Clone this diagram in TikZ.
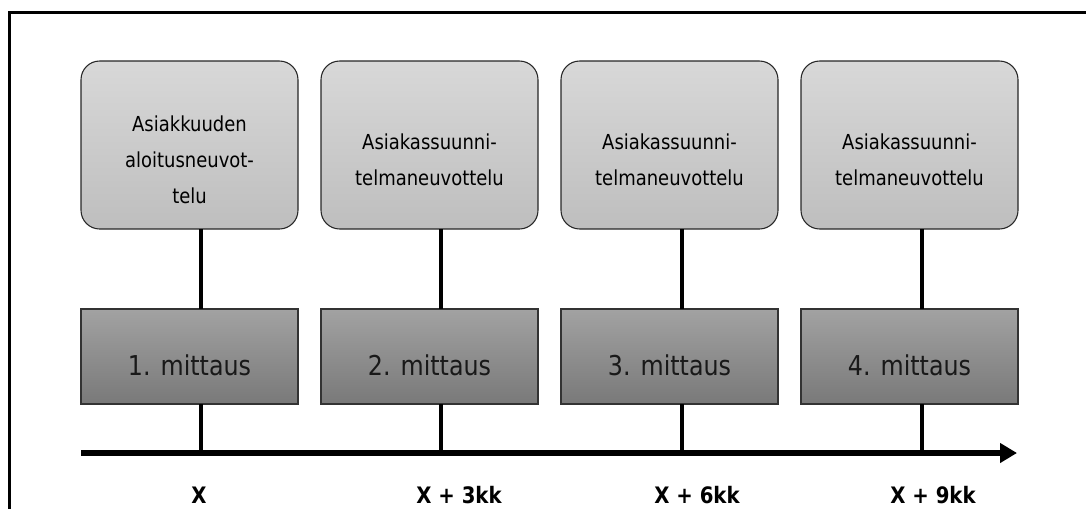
\documentclass[tikz,border=0pt]{standalone}
\usepackage{fontspec}
\setmainfont{DejaVu Sans}[FakeStretch=0.87]
\usepackage{tikz}
\usetikzlibrary{positioning,arrows.meta}
\definecolor{MeetTop}{RGB}{216,216,216}
\definecolor{MeetBottom}{RGB}{190,190,190}
\definecolor{MeasTop}{RGB}{162,162,162}
\definecolor{MeasBottom}{RGB}{121,121,121}

\begin{document}
\begin{tikzpicture}[
        x=0.75pt, y=-0.75pt, % 1 unit = 1 pixel of the page
        % --- STYLES ---
        % Rounded boxes for the meetings
        meeting/.style={
            rectangle, rounded corners=14pt, draw=black!85, line width=0.8pt,
            top color=MeetTop, bottom color=MeetBottom,
            minimum width=162.75pt, minimum height=126pt,
            outer sep=0pt, inner sep=0pt
        },
        meettext/.style={
            align=center, inner sep=0pt,
            font=\fontsize{15.5pt}{27pt}\selectfont
        },
        % Square boxes for the measurements
        measure/.style={
            rectangle, draw=black!80, line width=0.8pt,
            top color=MeasTop, bottom color=MeasBottom,
            minimum width=162.75pt, minimum height=71.25pt,
            outer sep=0pt, inner sep=0pt
        },
        meastext/.style={
            inner sep=0pt, text=black!90,
            font=\fontsize{20.5pt}{24pt}\selectfont
        },
        % Time labels under the axis
        period/.style={
            anchor=base, inner sep=0pt, text depth=0pt,
            font=\bfseries\fontsize{17pt}{20pt}\selectfont
        },
        link/.style={draw=black, line width=2.8pt}
    ]

        \useasboundingbox (0,0) rectangle (1086,508);
        \clip (0,0) rectangle (1086,508);

        % --- FRAME ---
        \draw[line width=2pt] (9.5,560) -- (9.5,12.5) -- (1120,12.5);

        % --- MEETINGS ---
        \node[meeting] (top1) at (189.5,145) {};
        \node[meeting] (top2) at (429.5,145) {};
        \node[meeting] (top3) at (669.5,145) {};
        \node[meeting] (top4) at (909.5,145) {};

        \node[meettext] (txt1) at ([yshift=-11.25pt]top1.center) {Asiakkuuden\\aloitusneuvot-\\telu};
        \node[meettext] (txt2) at ([yshift=-11.25pt]top2.center) {Asiakassuunni-\\telmaneuvottelu};
        \node[meettext] (txt3) at ([yshift=-11.25pt]top3.center) {Asiakassuunni-\\telmaneuvottelu};
        \node[meettext] (txt4) at ([yshift=-11.25pt]top4.center) {Asiakassuunni-\\telmaneuvottelu};

        % --- MEASUREMENTS ---
        \node[measure, below=60pt of top1] (mit1) {};
        \node[measure, below=60pt of top2] (mit2) {};
        \node[measure, below=60pt of top3] (mit3) {};
        \node[measure, below=60pt of top4] (mit4) {};

        \node[meastext] (mtxt1) at ([yshift=-6.75pt]mit1.center) {1. mittaus};
        \node[meastext] (mtxt2) at ([yshift=-6.75pt]mit2.center) {2. mittaus};
        \node[meastext] (mtxt3) at ([yshift=-6.75pt]mit3.center) {3. mittaus};
        \node[meastext] (mtxt4) at ([yshift=-6.75pt]mit4.center) {4. mittaus};

        % --- TIME AXIS ---
        \coordinate (tick1) at (201,453);
        \coordinate (tick2) at (441,453);
        \coordinate (tick3) at (682,453);
        \coordinate (tick4) at (922,453);
        \coordinate (axisstart) at (81,453);
        \coordinate (axisend) at (1017,453);

        \draw[link] (top1.south -| tick1) -- (mit1.north -| tick1);
        \draw[link] (top2.south -| tick2) -- (mit2.north -| tick2);
        \draw[link] (top3.south -| tick3) -- (mit3.north -| tick3);
        \draw[link] (top4.south -| tick4) -- (mit4.north -| tick4);

        \draw[link] (mit1.south -| tick1) -- (tick1);
        \draw[link] (mit2.south -| tick2) -- (tick2);
        \draw[link] (mit3.south -| tick3) -- (tick3);
        \draw[link] (mit4.south -| tick4) -- (tick4);

        \draw[line width=4.5pt, -{Triangle[length=12.75pt, width=14.25pt]}] (axisstart) -- (axisend);

        \node[period] (lbl1) at (199,503) {X};
        \node[period] (lbl2) at (459,503) {X + 3kk};
        \node[period] (lbl3) at (697,503) {X + 6kk};
        \node[period] (lbl4) at (933,503) {X + 9kk};

    \end{tikzpicture}
\end{document}
